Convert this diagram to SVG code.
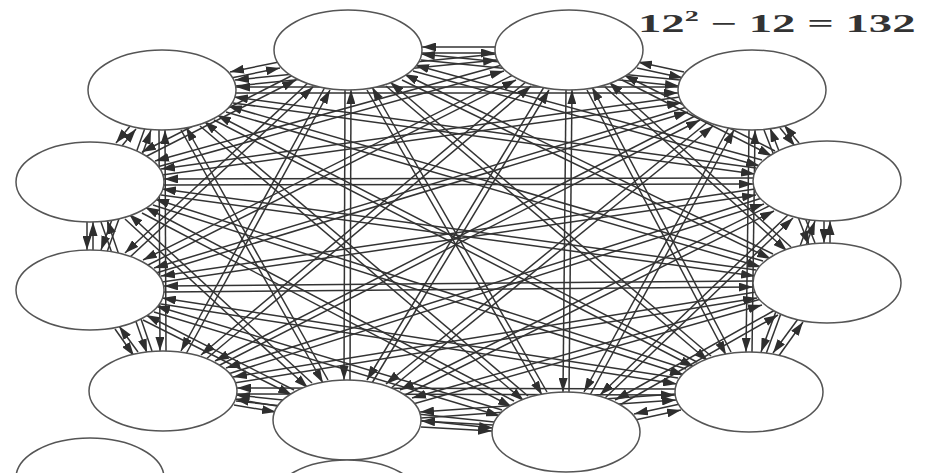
<svg xmlns="http://www.w3.org/2000/svg" width="926" height="473" viewBox="0 0 926 473">
<style>
.e{fill:#fff;stroke:#555;stroke-width:1.5}
#edges line{stroke:#333;stroke-width:1.5;marker-end:url(#ah)}
.t{font-family:"Liberation Serif","DejaVu Serif",serif;font-size:25px;font-weight:bold;fill:#333}
</style>
<defs>
<marker id="ah" viewBox="0 0 14 9" refX="14" refY="4.5" markerWidth="14" markerHeight="9" markerUnits="userSpaceOnUse" orient="auto"><path d="M0,0 L14,4.5 L0,9 z" fill="#2e2e2e"/></marker>
</defs>
<rect width="926" height="473" fill="#fff"/>
<g id="edges">
<line x1="231" y1="78" x2="280" y2="68"/><line x1="279" y1="62" x2="230" y2="72"/>
<line x1="235" y1="86" x2="497" y2="60"/><line x1="496" y1="54" x2="235" y2="80"/>
<line x1="236" y1="93" x2="678" y2="93"/><line x1="678" y1="87" x2="236" y2="87"/>
<line x1="233" y1="103" x2="755" y2="174"/><line x1="756" y1="168" x2="234" y2="97"/>
<line x1="226" y1="112" x2="761" y2="267"/><line x1="763" y1="261" x2="228" y2="106"/>
<line x1="214" y1="120" x2="694" y2="367"/><line x1="697" y1="362" x2="217" y2="115"/>
<line x1="200" y1="126" x2="524" y2="401"/><line x1="528" y1="396" x2="204" y2="121"/>
<line x1="181" y1="130" x2="323" y2="383"/><line x1="328" y1="380" x2="186" y2="127"/>
<line x1="159" y1="130" x2="160" y2="351"/><line x1="166" y1="351" x2="165" y2="130"/>
<line x1="145" y1="128" x2="101" y2="250"/><line x1="107" y1="252" x2="151" y2="130"/>
<line x1="131" y1="125" x2="116" y2="143"/><line x1="121" y1="147" x2="136" y2="129"/>
<line x1="422" y1="53" x2="495" y2="53"/><line x1="495" y1="47" x2="422" y2="47"/>
<line x1="421" y1="60" x2="679" y2="86"/><line x1="680" y1="80" x2="421" y2="54"/>
<line x1="413" y1="71" x2="760" y2="166"/><line x1="762" y1="160" x2="415" y2="65"/>
<line x1="402" y1="80" x2="771" y2="259"/><line x1="773" y1="254" x2="404" y2="74"/>
<line x1="386" y1="86" x2="708" y2="361"/><line x1="711" y1="356" x2="390" y2="82"/>
<line x1="367" y1="90" x2="542" y2="395"/><line x1="547" y1="392" x2="372" y2="87"/>
<line x1="345" y1="90" x2="344" y2="380"/><line x1="350" y1="380" x2="351" y2="90"/>
<line x1="325" y1="87" x2="181" y2="351"/><line x1="186" y1="354" x2="330" y2="90"/>
<line x1="309" y1="82" x2="125" y2="253"/><line x1="129" y1="258" x2="313" y2="87"/>
<line x1="293" y1="75" x2="142" y2="152"/><line x1="145" y1="157" x2="296" y2="80"/>
<line x1="637" y1="68" x2="683" y2="78"/><line x1="684" y1="72" x2="638" y2="62"/>
<line x1="622" y1="80" x2="772" y2="156"/><line x1="775" y1="151" x2="624" y2="75"/>
<line x1="605" y1="87" x2="787" y2="251"/><line x1="791" y1="247" x2="609" y2="82"/>
<line x1="587" y1="90" x2="726" y2="355"/><line x1="731" y1="352" x2="592" y2="87"/>
<line x1="566" y1="90" x2="563" y2="392"/><line x1="569" y1="392" x2="572" y2="90"/>
<line x1="544" y1="87" x2="367" y2="380"/><line x1="372" y1="383" x2="549" y2="90"/>
<line x1="527" y1="81" x2="201" y2="355"/><line x1="205" y1="360" x2="531" y2="86"/>
<line x1="513" y1="75" x2="143" y2="260"/><line x1="146" y1="266" x2="516" y2="80"/>
<line x1="502" y1="65" x2="155" y2="161"/><line x1="157" y1="167" x2="504" y2="71"/>
<line x1="780" y1="128" x2="795" y2="146"/><line x1="799" y1="143" x2="784" y2="125"/>
<line x1="764" y1="130" x2="809" y2="245"/><line x1="815" y1="243" x2="770" y2="128"/>
<line x1="749" y1="130" x2="746" y2="352"/><line x1="752" y1="352" x2="755" y2="130"/>
<line x1="729" y1="127" x2="584" y2="392"/><line x1="590" y1="395" x2="734" y2="130"/>
<line x1="709" y1="121" x2="386" y2="384"/><line x1="390" y1="389" x2="713" y2="126"/>
<line x1="697" y1="115" x2="215" y2="361"/><line x1="218" y1="366" x2="700" y2="120"/>
<line x1="687" y1="107" x2="154" y2="268"/><line x1="156" y1="273" x2="688" y2="112"/>
<line x1="680" y1="97" x2="161" y2="169"/><line x1="162" y1="175" x2="681" y2="103"/>
<line x1="824" y1="221" x2="824" y2="243"/><line x1="830" y1="243" x2="830" y2="221"/>
<line x1="810" y1="219" x2="761" y2="352"/><line x1="766" y1="354" x2="815" y2="221"/>
<line x1="789" y1="214" x2="600" y2="395"/><line x1="604" y1="399" x2="793" y2="218"/>
<line x1="771" y1="205" x2="400" y2="390"/><line x1="403" y1="396" x2="774" y2="211"/>
<line x1="762" y1="198" x2="226" y2="368"/><line x1="228" y1="374" x2="764" y2="204"/>
<line x1="755" y1="189" x2="161" y2="276"/><line x1="162" y1="282" x2="756" y2="195"/>
<line x1="753" y1="178" x2="164" y2="179"/><line x1="164" y1="185" x2="753" y2="184"/>
<line x1="798" y1="319" x2="773" y2="353"/><line x1="778" y1="357" x2="803" y2="322"/>
<line x1="775" y1="310" x2="615" y2="400"/><line x1="618" y1="406" x2="778" y2="315"/>
<line x1="761" y1="299" x2="412" y2="398"/><line x1="413" y1="404" x2="762" y2="305"/>
<line x1="756" y1="292" x2="233" y2="377"/><line x1="234" y1="383" x2="757" y2="298"/>
<line x1="753" y1="281" x2="164" y2="286"/><line x1="164" y1="292" x2="753" y2="287"/>
<line x1="756" y1="270" x2="162" y2="189"/><line x1="161" y1="195" x2="755" y2="276"/>
<line x1="680" y1="404" x2="634" y2="414"/><line x1="635" y1="420" x2="681" y2="410"/>
<line x1="675" y1="394" x2="420" y2="412"/><line x1="421" y1="418" x2="676" y2="400"/>
<line x1="675" y1="389" x2="237" y2="388"/><line x1="237" y1="394" x2="675" y2="395"/>
<line x1="678" y1="378" x2="162" y2="298"/><line x1="161" y1="304" x2="677" y2="384"/>
<line x1="686" y1="369" x2="155" y2="199"/><line x1="153" y1="205" x2="684" y2="375"/>
<line x1="493" y1="425" x2="421" y2="421"/><line x1="421" y1="427" x2="492" y2="431"/>
<line x1="494" y1="422" x2="236" y2="395"/><line x1="236" y1="401" x2="493" y2="428"/>
<line x1="502" y1="410" x2="156" y2="306"/><line x1="154" y1="312" x2="500" y2="416"/>
<line x1="514" y1="401" x2="145" y2="207"/><line x1="142" y1="213" x2="512" y2="407"/>
<line x1="277" y1="406" x2="235" y2="399"/><line x1="234" y1="405" x2="276" y2="412"/>
<line x1="294" y1="390" x2="146" y2="315"/><line x1="143" y1="320" x2="292" y2="395"/>
<line x1="312" y1="383" x2="129" y2="214"/><line x1="125" y1="219" x2="308" y2="388"/>
<line x1="138" y1="352" x2="119" y2="326"/><line x1="115" y1="329" x2="134" y2="356"/>
<line x1="152" y1="351" x2="107" y2="220"/><line x1="101" y1="222" x2="147" y2="353"/>
<line x1="93" y1="250" x2="93" y2="222"/><line x1="87" y1="222" x2="87" y2="250"/>
</g>
<g id="n0"><ellipse class="e" cx="162" cy="90" rx="74" ry="40"/></g>
<g id="n1"><ellipse class="e" cx="348" cy="50" rx="74" ry="40"/></g>
<g id="n2"><ellipse class="e" cx="569" cy="50" rx="74" ry="40"/></g>
<g id="n3"><ellipse class="e" cx="752" cy="90" rx="74" ry="40"/></g>
<g id="n4"><ellipse class="e" cx="827" cy="181" rx="74" ry="40"/></g>
<g id="n5"><ellipse class="e" cx="827" cy="283" rx="74" ry="40"/></g>
<g id="n6"><ellipse class="e" cx="749" cy="392" rx="74" ry="40"/></g>
<g id="n7"><ellipse class="e" cx="566" cy="432" rx="74" ry="40"/></g>
<g id="n8"><ellipse class="e" cx="347" cy="420" rx="74" ry="40"/></g>
<g id="n9"><ellipse class="e" cx="163" cy="391" rx="74" ry="40"/></g>
<g id="n10"><ellipse class="e" cx="90" cy="290" rx="74" ry="40"/></g>
<g id="n11"><ellipse class="e" cx="90" cy="182" rx="74" ry="40"/></g>
<g id="n12"><ellipse class="e" cx="90" cy="478" rx="74" ry="40"/></g>
<g id="n13"><ellipse class="e" cx="347" cy="500" rx="74" ry="40"/></g>
<text class="t" transform="translate(638,32) scale(1.87,1)">12<tspan dy="-11" font-size="15">2</tspan><tspan dy="11"> − 12 = 132</tspan></text>
</svg>
